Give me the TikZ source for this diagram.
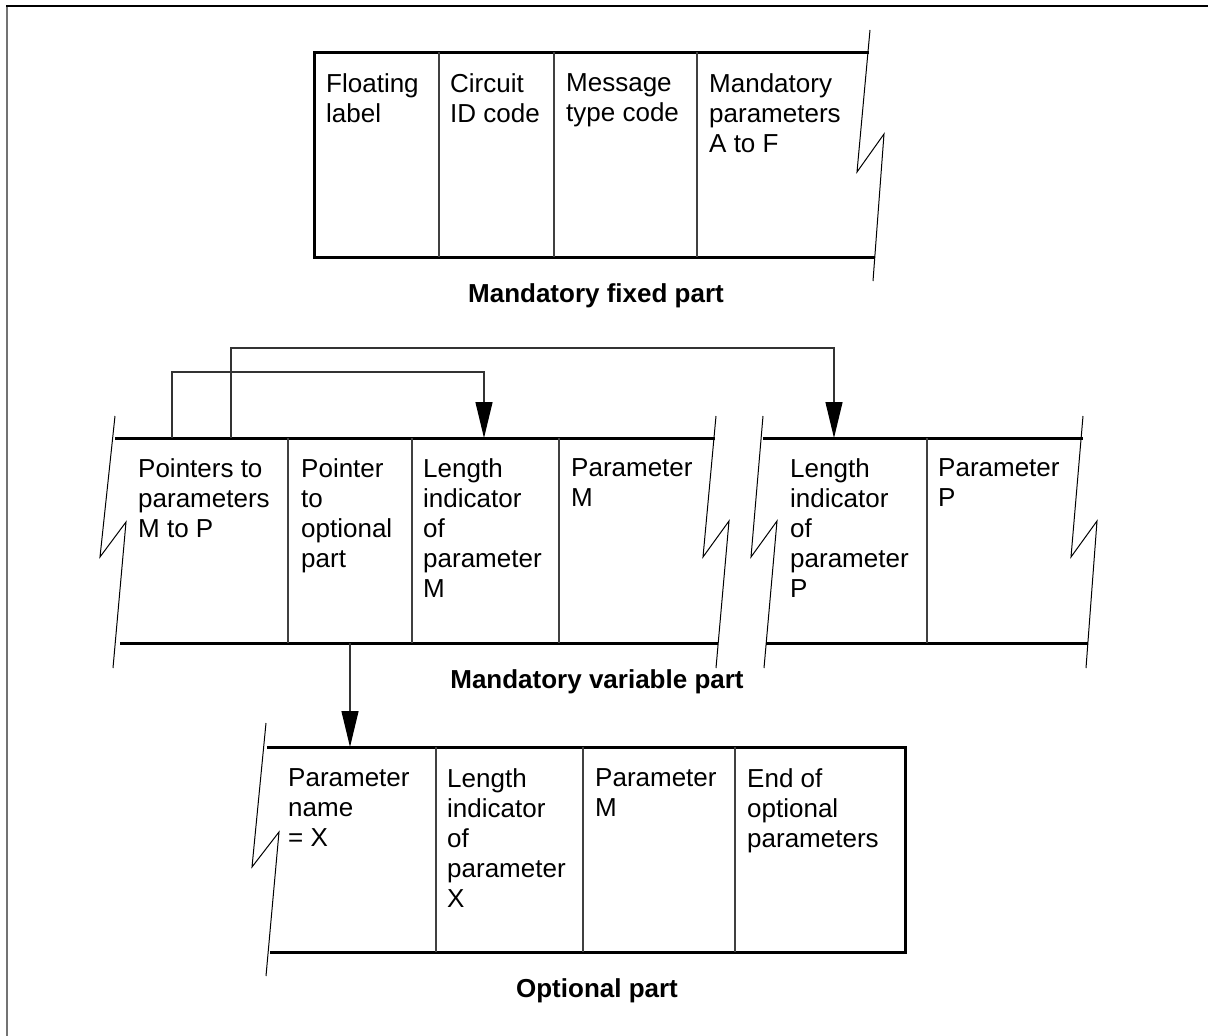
\documentclass[tikz,border=0pt]{standalone}
\usepackage{fontspec}
\setmainfont{Liberation Sans}
\usetikzlibrary{arrows.meta}
\begin{document}
\begin{tikzpicture}[x=1pt,y=-1pt,
  rule/.style={line width=3pt},
  divider/.style={line width=1.2pt, black!75},
  breakline/.style={line width=1pt},
  cell/.style={anchor=north west, inner sep=0pt, align=left,
    font=\fontsize{26}{30}\selectfont},
  caption/.style={anchor=base, inner sep=0pt,
    font=\fontsize{26}{30}\selectfont\bfseries},
  pointer/.style={line width=1.2pt, black!80},
  head/.style={-{Triangle[length=36pt,width=17pt,color=black]}}
]
\useasboundingbox (0,0) rectangle (1208,1036);

% frame
\draw[line width=2.5pt, black!55] (7,1036) -- (7,6);
\draw[line width=2pt] (6,6) -- (1208,6);

% ---------------- mandatory fixed part ----------------
\draw[rule] (869,52) -- (314,52) -- (314,257) -- (875,257);
\foreach \x in {439,554,697} \draw[divider] (\x,52) -- (\x,257);
\draw[breakline] (870,30) -- (857,172) -- (884,134) -- (873,281);
\node[cell] (fl) at (326,73) {Floating\\label};
\node[cell] (cic) at (450,73) {Circuit\\ID code};
\node[cell] (mtc) at (566,73) {Message\\type code};
\node[cell] (mpa) at (709,73) {Mandatory\\parameters\\A to F};
\node[caption] (capfix) at (596,302) {Mandatory fixed part};

% ---------------- mandatory variable part ----------------
\draw[rule] (115,438) -- (715,438);
\draw[rule] (120,643) -- (718,643);
\draw[rule] (763,438) -- (1083,438);
\draw[rule] (766,643) -- (1088,643);
\foreach \x in {288,412,559,927} \draw[divider] (\x,438) -- (\x,643);
\draw[breakline] (115,416) -- (100,557) -- (126,522) -- (113,668);
\draw[breakline] (716,416) -- (703,557) -- (729,521) -- (716,668);
\draw[breakline] (763,416) -- (751,557) -- (777,521) -- (764,668);
\draw[breakline] (1083,416) -- (1071,557) -- (1097,521) -- (1086,668);
\node[cell] (ptp) at (138,458) {Pointers to\\parameters\\M to P};
\node[cell] (pop) at (301,458) {Pointer\\to\\optional\\part};
\node[cell] (lim) at (423,458) {Length\\indicator\\of\\parameter\\M};
\node[cell] (pam) at (571,458) {Parameter\\M};
\node[cell] (lip) at (790,458) {Length\\indicator\\of\\parameter\\P};
\node[cell] (pap) at (938,458) {Parameter\\P};
\node[caption] (capvar) at (597,688) {Mandatory variable part};

% pointer connectors
\coordinate (srcM) at (172,438);
\coordinate (srcP) at (231,438);
\coordinate (dstM) at (484,438);
\coordinate (dstP) at (834,438);
\coordinate (srcO) at (350,643);
\coordinate (dstO) at (350,747);
\draw[pointer, head] (srcM) -- (172,372) -| (dstM);
\draw[pointer, head] (srcP) -- (231,348) -| (dstP);
\draw[pointer, head] (srcO) -- (dstO);

% ---------------- optional part ----------------
\draw[rule] (267,747) -- (905,747) -- (905,952) -- (270,952);
\foreach \x in {436,583,735} \draw[divider] (\x,747) -- (\x,952);
\draw[breakline] (266,723) -- (252,867) -- (279,832) -- (266,976);
\node[cell] (pnx) at (288,768) {Parameter\\name\\= X};
\node[cell] (lix) at (447,768) {Length\\indicator\\of\\parameter\\X};
\node[cell] (opm) at (595,768) {Parameter\\M};
\node[cell] (eop) at (747,768) {End of\\optional\\parameters};
\node[caption] (capopt) at (597,997) {Optional part};
\end{tikzpicture}
\end{document}
